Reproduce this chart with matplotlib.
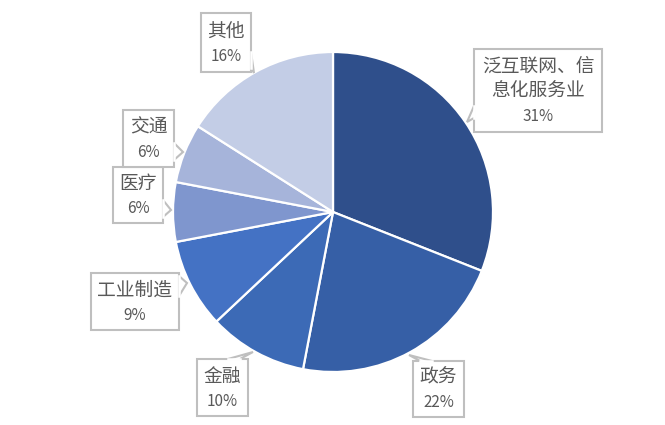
import matplotlib.pyplot as plt
from matplotlib.patches import Polygon

plt.rcParams['font.family'] = ['Noto Sans CJK SC', 'DejaVu Sans']

labels = ['泛互联网、信\n息化服务业', '政务', '金融', '工业制造', '医疗', '交通', '其他']
values = [31, 22, 10, 9, 6, 6, 16]
colors = ['#2F4F8B', '#365FA6', '#3C6AB6', '#4472C4', '#7F96CE', '#A6B4DA', '#C3CDE6']

W, H = 665, 425

# callout boxes in image pixels: (left, top, right, bottom), pointer (base1, base2, tip)
boxes = [
    ((474, 49, 602, 132), ((474, 106), (474, 118), (467, 122))),
    ((413, 361, 464, 417), ((420, 361), (432, 361), (409, 355))),
    ((197, 359, 248, 416), ((228, 359), (240, 359), (253, 352))),
    ((91, 273, 179, 330), ((179, 276), (179, 296), (187, 283))),
    ((113, 167, 163, 223), ((163, 200), (163, 217), (171, 210))),
    ((123, 110, 174, 167), ((174, 143), (174, 160), (183, 152))),
    ((201, 13, 251, 72), ((251, 52), (251, 68), (254, 73))),
]

fig = plt.figure(figsize=(6.65, 4.25), dpi=100)
ax = fig.add_axes([0, 0, 1, 1])

ax.pie(values, colors=colors, startangle=90, counterclock=False,
       center=(333, H - 212), radius=160,
       wedgeprops=dict(edgecolor='white', linewidth=1.6))

ax.set_xlim(0, W)
ax.set_ylim(0, H)
ax.axis('off')

gray = '#BFBFBF'
txt = '#595959'


def fy(y):
    return H - y


for lab, v, (box, ptr) in zip(labels, values, boxes):
    l, t, r, b = box
    rect = Polygon([(l, fy(t)), (r, fy(t)), (r, fy(b)), (l, fy(b))], closed=True,
                   facecolor='white', edgecolor=gray, linewidth=1.5, zorder=5)
    ax.add_patch(rect)
    p1, p2, tip = ptr
    tri = Polygon([(p1[0], fy(p1[1])), (tip[0], fy(tip[1])), (p2[0], fy(p2[1]))],
                  closed=False, facecolor='white', edgecolor=gray, linewidth=1.5, zorder=6)
    ax.add_patch(tri)
    ax.plot([p1[0], p2[0]], [fy(p1[1]), fy(p2[1])], color='white', lw=1.8, zorder=7)
    lines = lab.split('\n') + ['%d%%' % v]
    n = len(lines)
    cx = (l + r) / 2
    step = 25
    y0 = (t + b) / 2 - step * (n - 1) / 2 + 1
    for i, s in enumerate(lines):
        fs = 11 if i == n - 1 else 13.5
        ax.text(cx, fy(y0 + i * step), s, ha='center', va='center',
                fontsize=fs, color=txt, zorder=8)

fig.savefig('out.png', dpi=100)
